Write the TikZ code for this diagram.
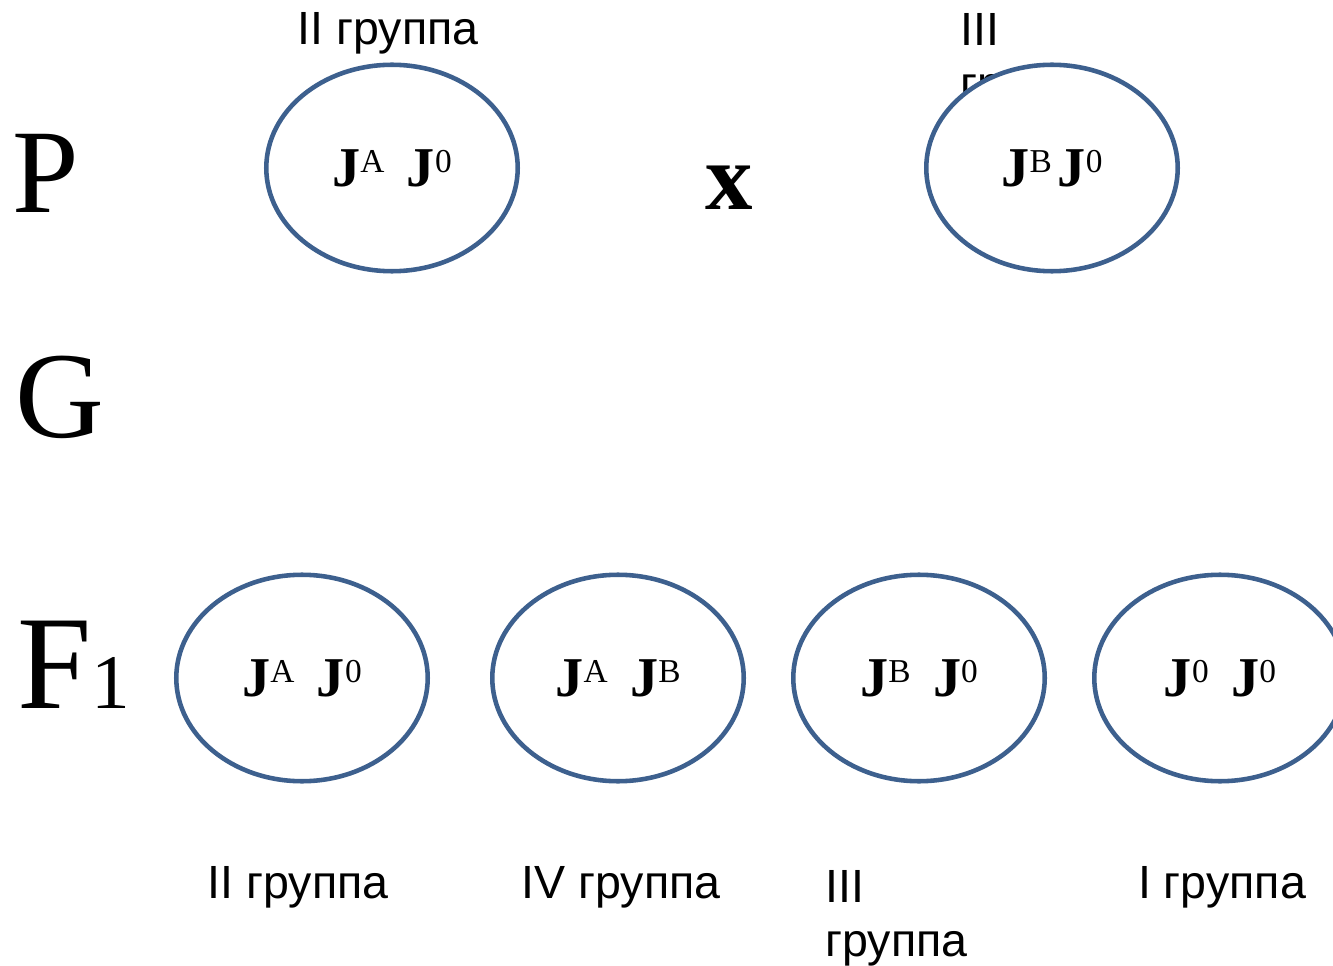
\documentclass[tikz,border=0pt]{standalone}
\usepackage{fontspec}
\setmainfont{Liberation Serif}
\newfontfamily\grpfont{Liberation Sans}
\usetikzlibrary{positioning, shapes.geometric}
\definecolor{CellBlue}{RGB}{61,96,142}
\newcommand{\allele}[1]{\textbf{J}\raisebox{8pt}{\fontsize{19}{19}\selectfont #1}}
\tikzset{
  gamete/.style={ellipse, draw=CellBlue, line width=2.6pt, fill=white,
                 minimum width=5.03cm, minimum height=4.13cm, inner sep=0pt,
                 font=\fontsize{32}{36}\selectfont},
  grp/.style={font=\grpfont\fontsize{26.5}{31}\selectfont, inner sep=0pt, align=left},
  gen/.style={font=\fontsize{70}{70}\selectfont, inner sep=0pt},
}

\begin{document}
\begin{tikzpicture}[x=0.02cm, y=-0.02cm]
  \useasboundingbox (0,0) rectangle (1333,966);
  % parents
  \node[grp, anchor=base] (tl) at (388,45) {II группа};
  \node[grp, anchor=north west] (tr) at (960,13) {III\\группа};
  \node[gamete] (pa) at (392,168) {\allele{A}\hspace{0.45cm}\allele{0}};
  \node[gamete] (pb) at (1052,168) {\allele{B}\hspace{0.12cm}\allele{0}};
  \node[font=\bfseries\fontsize{54}{54}\selectfont, inner sep=0pt, anchor=base] (cross) at (729,210) {x};

  % generations
  \node[gen, anchor=base west, font=\fontsize{68}{68}\selectfont] (p) at (12,213) {P};
  \node[gen, anchor=base west] (g) at (15,438) {G};
  \node[gen, anchor=base west, font=\fontsize{76}{76}\selectfont] (f) at (17,708) {F{\fontsize{44}{44}\selectfont 1}};

  % offspring
  \node[gamete] (fa) at (302,678) {\allele{A}\hspace{0.45cm}\allele{0}};
  \node[gamete, right=1.2cm of fa] (fb) {\allele{A}\hspace{0.45cm}\allele{B}};
  \node[gamete, right=0.9cm of fb] (fc) {\allele{B}\hspace{0.45cm}\allele{0}};
  \node[gamete, right=0.9cm of fc] (fd) {\allele{0}\hspace{0.45cm}\allele{0}};

  \node[grp, anchor=base] (la) at (298,898) {II группа};
  \node[grp, anchor=base] (lb) at (621,898) {IV группа};
  \node[grp, anchor=north west] (lc) at (825,870) {III\\группа};
  \node[grp, anchor=base] (ld) at (1222,898) {I группа};
\end{tikzpicture}
\end{document}
